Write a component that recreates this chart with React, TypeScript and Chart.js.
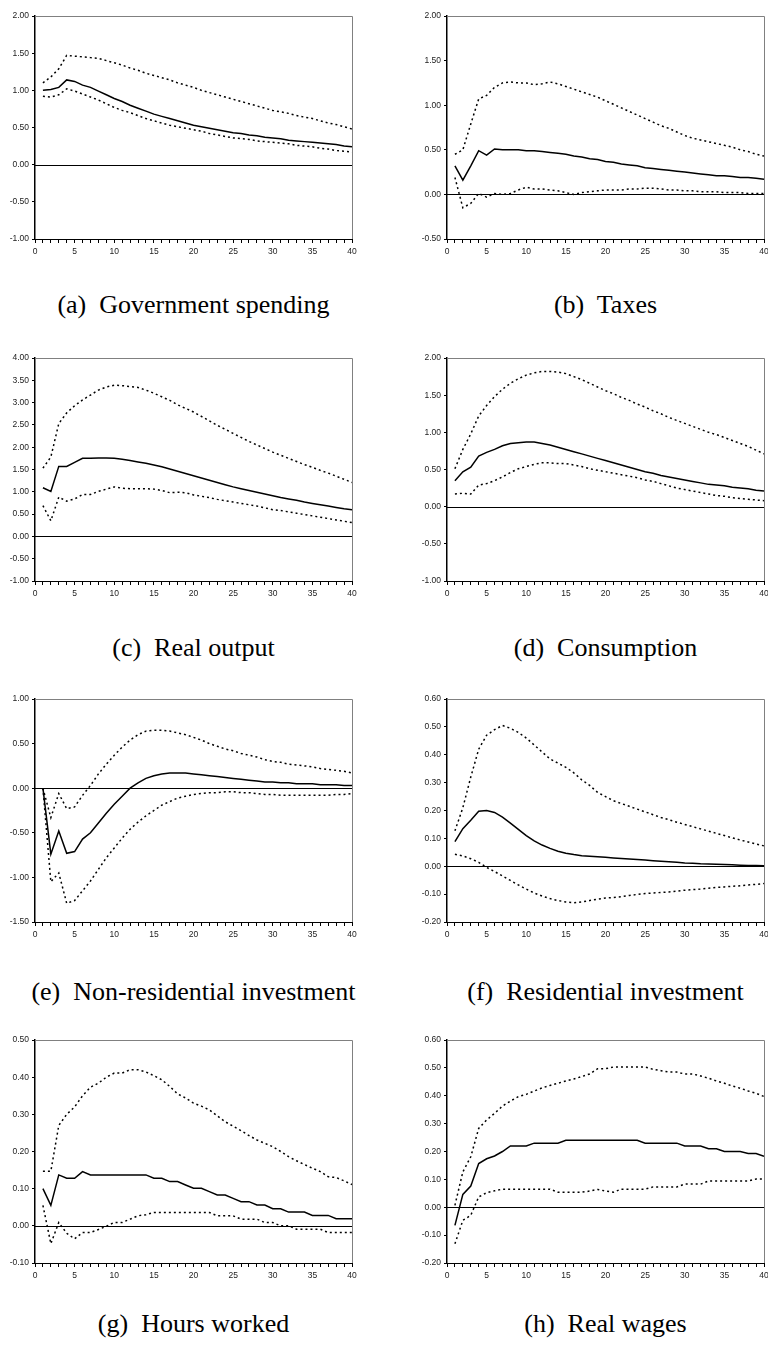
import React, { useEffect, useRef } from "react";
import { Chart, registerables } from "chart.js";

Chart.register(...registerables);

// ---------- data ----------
const periods = [1, 2, 3, 4, 5, 6, 7, 8, 9, 10, 11, 12, 13, 14, 15, 16, 17, 18, 19, 20, 21, 22, 23, 24, 25, 26, 27, 28, 29, 30, 31, 32, 33, 34, 35, 36, 37, 38, 39, 40];

const govMid = [1.00, 1.01, 1.04, 1.14, 1.12, 1.07, 1.04, 0.99, 0.94, 0.89, 0.85, 0.80, 0.76, 0.72, 0.68, 0.65, 0.62, 0.59, 0.56, 0.53, 0.51, 0.49, 0.47, 0.45, 0.43, 0.42, 0.40, 0.39, 0.37, 0.36, 0.35, 0.33, 0.32, 0.31, 0.30, 0.29, 0.28, 0.27, 0.25, 0.24];
const govHi = [1.10, 1.18, 1.29, 1.47, 1.46, 1.45, 1.44, 1.43, 1.40, 1.37, 1.34, 1.30, 1.27, 1.23, 1.20, 1.17, 1.14, 1.10, 1.07, 1.04, 1.00, 0.97, 0.94, 0.91, 0.88, 0.85, 0.82, 0.79, 0.76, 0.73, 0.71, 0.69, 0.66, 0.64, 0.62, 0.59, 0.56, 0.54, 0.51, 0.48];
const govLo = [0.92, 0.91, 0.94, 1.02, 0.99, 0.95, 0.91, 0.87, 0.82, 0.77, 0.73, 0.70, 0.66, 0.62, 0.59, 0.56, 0.53, 0.51, 0.49, 0.47, 0.45, 0.42, 0.40, 0.38, 0.36, 0.35, 0.34, 0.32, 0.31, 0.30, 0.29, 0.28, 0.26, 0.25, 0.24, 0.22, 0.21, 0.19, 0.18, 0.17];

const taxMid = [0.32, 0.16, 0.32, 0.49, 0.44, 0.51, 0.50, 0.50, 0.50, 0.49, 0.49, 0.48, 0.47, 0.46, 0.45, 0.43, 0.42, 0.40, 0.39, 0.37, 0.36, 0.34, 0.33, 0.32, 0.30, 0.29, 0.28, 0.27, 0.26, 0.25, 0.24, 0.23, 0.22, 0.21, 0.21, 0.20, 0.19, 0.19, 0.18, 0.17];
const taxHi = [0.45, 0.50, 0.79, 1.07, 1.11, 1.20, 1.25, 1.26, 1.25, 1.25, 1.23, 1.24, 1.26, 1.24, 1.21, 1.18, 1.15, 1.12, 1.09, 1.05, 1.01, 0.97, 0.93, 0.89, 0.85, 0.81, 0.77, 0.74, 0.70, 0.66, 0.63, 0.61, 0.59, 0.57, 0.55, 0.53, 0.50, 0.48, 0.45, 0.43];
const taxLo = [0.19, -0.15, -0.10, 0.01, -0.03, 0.01, 0.00, 0.01, 0.05, 0.08, 0.06, 0.06, 0.05, 0.04, 0.02, 0.00, 0.02, 0.03, 0.04, 0.05, 0.05, 0.05, 0.06, 0.06, 0.07, 0.07, 0.06, 0.05, 0.05, 0.04, 0.04, 0.03, 0.03, 0.03, 0.02, 0.02, 0.02, 0.01, 0.01, 0.01];

const outMid = [1.09, 1.01, 1.57, 1.57, 1.66, 1.75, 1.75, 1.76, 1.76, 1.75, 1.73, 1.70, 1.67, 1.64, 1.60, 1.56, 1.51, 1.46, 1.41, 1.36, 1.31, 1.26, 1.21, 1.16, 1.11, 1.07, 1.03, 0.99, 0.95, 0.91, 0.87, 0.84, 0.81, 0.77, 0.74, 0.71, 0.68, 0.65, 0.62, 0.60];
const outHi = [1.53, 1.78, 2.53, 2.77, 2.93, 3.06, 3.17, 3.28, 3.35, 3.39, 3.38, 3.36, 3.34, 3.28, 3.21, 3.13, 3.05, 2.95, 2.87, 2.79, 2.69, 2.59, 2.49, 2.40, 2.31, 2.22, 2.13, 2.05, 1.97, 1.89, 1.82, 1.75, 1.68, 1.61, 1.55, 1.48, 1.42, 1.35, 1.28, 1.21];
const outLo = [0.69, 0.35, 0.88, 0.79, 0.84, 0.94, 0.94, 1.01, 1.06, 1.11, 1.08, 1.07, 1.07, 1.07, 1.06, 1.03, 0.98, 0.99, 0.98, 0.93, 0.90, 0.87, 0.83, 0.80, 0.77, 0.74, 0.71, 0.68, 0.64, 0.60, 0.58, 0.55, 0.52, 0.49, 0.46, 0.43, 0.40, 0.37, 0.34, 0.31];

const conMid = [0.35, 0.47, 0.53, 0.68, 0.73, 0.77, 0.82, 0.85, 0.86, 0.87, 0.87, 0.85, 0.83, 0.80, 0.77, 0.74, 0.71, 0.68, 0.65, 0.62, 0.59, 0.56, 0.53, 0.50, 0.47, 0.45, 0.42, 0.40, 0.38, 0.36, 0.34, 0.32, 0.30, 0.29, 0.28, 0.26, 0.25, 0.24, 0.22, 0.21];
const conHi = [0.51, 0.77, 0.98, 1.22, 1.36, 1.48, 1.58, 1.66, 1.72, 1.77, 1.80, 1.82, 1.82, 1.81, 1.79, 1.75, 1.71, 1.66, 1.61, 1.56, 1.52, 1.47, 1.43, 1.38, 1.34, 1.29, 1.25, 1.20, 1.16, 1.12, 1.08, 1.04, 1.00, 0.97, 0.93, 0.89, 0.85, 0.81, 0.76, 0.71];
const conLo = [0.17, 0.18, 0.17, 0.29, 0.31, 0.35, 0.40, 0.46, 0.51, 0.54, 0.57, 0.59, 0.59, 0.58, 0.58, 0.56, 0.54, 0.51, 0.49, 0.47, 0.45, 0.43, 0.41, 0.39, 0.36, 0.34, 0.31, 0.28, 0.25, 0.23, 0.21, 0.19, 0.17, 0.15, 0.14, 0.12, 0.11, 0.10, 0.09, 0.08];

const nriMid = [0.00, -0.74, -0.48, -0.73, -0.71, -0.57, -0.50, -0.39, -0.28, -0.18, -0.09, 0.00, 0.06, 0.11, 0.14, 0.16, 0.17, 0.17, 0.17, 0.16, 0.15, 0.14, 0.13, 0.12, 0.11, 0.10, 0.09, 0.08, 0.07, 0.07, 0.06, 0.06, 0.05, 0.05, 0.05, 0.04, 0.04, 0.04, 0.03, 0.03];
const nriHi = [0.00, -0.33, -0.06, -0.23, -0.21, -0.08, 0.03, 0.16, 0.27, 0.37, 0.46, 0.54, 0.60, 0.64, 0.65, 0.65, 0.64, 0.62, 0.60, 0.57, 0.54, 0.50, 0.47, 0.44, 0.42, 0.39, 0.37, 0.35, 0.32, 0.30, 0.29, 0.27, 0.26, 0.25, 0.24, 0.22, 0.21, 0.20, 0.19, 0.17];
const nriLo = [0.00, -1.05, -0.95, -1.29, -1.26, -1.15, -1.04, -0.91, -0.78, -0.67, -0.56, -0.46, -0.38, -0.31, -0.25, -0.19, -0.15, -0.11, -0.09, -0.07, -0.06, -0.05, -0.05, -0.04, -0.04, -0.05, -0.05, -0.06, -0.07, -0.07, -0.08, -0.08, -0.08, -0.08, -0.08, -0.08, -0.08, -0.07, -0.07, -0.06];

const resMid = [0.088, 0.135, 0.165, 0.197, 0.200, 0.193, 0.176, 0.155, 0.132, 0.110, 0.091, 0.076, 0.064, 0.054, 0.047, 0.042, 0.038, 0.036, 0.034, 0.032, 0.030, 0.028, 0.026, 0.024, 0.022, 0.020, 0.018, 0.016, 0.014, 0.012, 0.011, 0.009, 0.008, 0.007, 0.006, 0.005, 0.004, 0.003, 0.003, 0.002];
const resHi = [0.127, 0.210, 0.320, 0.420, 0.470, 0.490, 0.505, 0.495, 0.480, 0.460, 0.435, 0.410, 0.385, 0.370, 0.355, 0.335, 0.310, 0.290, 0.265, 0.250, 0.235, 0.225, 0.215, 0.205, 0.195, 0.185, 0.175, 0.167, 0.158, 0.150, 0.142, 0.134, 0.126, 0.118, 0.110, 0.102, 0.094, 0.087, 0.080, 0.073];
const resLo = [0.043, 0.037, 0.027, 0.014, -0.004, -0.019, -0.035, -0.051, -0.067, -0.082, -0.096, -0.107, -0.116, -0.123, -0.128, -0.131, -0.128, -0.123, -0.118, -0.114, -0.112, -0.109, -0.105, -0.101, -0.098, -0.096, -0.094, -0.092, -0.089, -0.086, -0.084, -0.082, -0.079, -0.076, -0.074, -0.072, -0.070, -0.067, -0.065, -0.062];

const hrsMid = [0.100, 0.055, 0.137, 0.128, 0.128, 0.146, 0.137, 0.137, 0.137, 0.137, 0.137, 0.137, 0.137, 0.137, 0.128, 0.128, 0.119, 0.119, 0.110, 0.101, 0.101, 0.092, 0.083, 0.083, 0.074, 0.065, 0.065, 0.056, 0.056, 0.046, 0.046, 0.037, 0.037, 0.037, 0.028, 0.028, 0.028, 0.019, 0.019, 0.019];
const hrsHi = [0.147, 0.147, 0.270, 0.300, 0.320, 0.350, 0.373, 0.384, 0.400, 0.411, 0.411, 0.420, 0.420, 0.414, 0.404, 0.393, 0.375, 0.355, 0.344, 0.330, 0.322, 0.312, 0.296, 0.280, 0.268, 0.256, 0.243, 0.231, 0.222, 0.213, 0.200, 0.186, 0.175, 0.165, 0.155, 0.146, 0.132, 0.130, 0.121, 0.111];
const hrsLo = [0.055, -0.048, 0.009, -0.020, -0.035, -0.018, -0.018, -0.010, -0.001, 0.009, 0.009, 0.018, 0.027, 0.030, 0.036, 0.036, 0.036, 0.036, 0.036, 0.036, 0.036, 0.036, 0.027, 0.027, 0.027, 0.018, 0.018, 0.018, 0.009, 0.009, 0.000, 0.000, -0.009, -0.009, -0.009, -0.009, -0.018, -0.018, -0.018, -0.018];

const wagMid = [-0.065, 0.046, 0.076, 0.157, 0.174, 0.184, 0.200, 0.220, 0.220, 0.220, 0.230, 0.230, 0.230, 0.230, 0.240, 0.240, 0.240, 0.240, 0.240, 0.240, 0.240, 0.240, 0.240, 0.240, 0.230, 0.230, 0.230, 0.230, 0.230, 0.220, 0.220, 0.220, 0.210, 0.210, 0.200, 0.200, 0.200, 0.193, 0.193, 0.183];
const wagHi = [0.007, 0.127, 0.181, 0.283, 0.313, 0.337, 0.363, 0.381, 0.397, 0.405, 0.417, 0.428, 0.437, 0.445, 0.453, 0.460, 0.469, 0.478, 0.497, 0.497, 0.503, 0.503, 0.503, 0.503, 0.503, 0.495, 0.490, 0.485, 0.485, 0.478, 0.478, 0.471, 0.463, 0.453, 0.445, 0.435, 0.427, 0.417, 0.409, 0.397];
const wagLo = [-0.131, -0.047, -0.029, 0.037, 0.052, 0.059, 0.065, 0.065, 0.065, 0.065, 0.065, 0.065, 0.065, 0.054, 0.054, 0.054, 0.054, 0.058, 0.064, 0.058, 0.054, 0.065, 0.065, 0.065, 0.065, 0.073, 0.073, 0.073, 0.073, 0.083, 0.083, 0.083, 0.094, 0.094, 0.094, 0.094, 0.094, 0.094, 0.101, 0.101];

const captions = ["(a)  Government spending", "(b)  Taxes", "(c)  Real output", "(d)  Consumption", "(e)  Non-residential investment", "(f)  Residential investment", "(g)  Hours worked", "(h)  Real wages"];
const yMins = [-1.0, -0.5, -1.0, -1.0, -1.5, -0.2, -0.1, -0.2];
const yMaxs = [2.0, 2.0, 4.0, 2.0, 1.0, 0.6, 0.5, 0.6];
const ySteps = [0.5, 0.5, 0.5, 0.5, 0.5, 0.1, 0.1, 0.1];
const xTickLabels = ["0", "5", "10", "15", "20", "25", "30", "35", "40"];

const series = [
  [govMid, govHi, govLo],
  [taxMid, taxHi, taxLo],
  [outMid, outHi, outLo],
  [conMid, conHi, conLo],
  [nriMid, nriHi, nriLo],
  [resMid, resHi, resLo],
  [hrsMid, hrsHi, hrsLo],
  [wagMid, wagHi, wagLo],
];

// ---------- layout ----------
const COL_LEFT = [35, 447];
const ROW_TOP = [16, 358, 699, 1040];
const CAPTION_Y = [305, 648, 992, 1324];
const PLOT_W = 317;
const PLOT_H = 223;
const PAD_L = 35;
const PAD_T = 10;
const PAD_R = 14;
const PAD_B = 30;

const framePlugin = {
  id: "frame",
  beforeDatasetsDraw(chart: any) {
    const { ctx, chartArea, scales } = chart;
    const zy = Math.round(scales.y.getPixelForValue(0)) + 0.5;
    ctx.save();
    ctx.strokeStyle = "#000";
    ctx.lineWidth = 1;
    ctx.beginPath();
    ctx.moveTo(chartArea.left, zy);
    ctx.lineTo(chartArea.right, zy);
    ctx.stroke();
    ctx.restore();
  },
  afterDraw(chart: any) {
    const { ctx, chartArea } = chart;
    ctx.save();
    ctx.strokeStyle = "#808080";
    ctx.lineWidth = 1;
    ctx.beginPath();
    ctx.moveTo(chartArea.left, Math.round(chartArea.top) + 0.5);
    ctx.lineTo(Math.round(chartArea.right) + 0.5, Math.round(chartArea.top) + 0.5);
    ctx.lineTo(Math.round(chartArea.right) + 0.5, chartArea.bottom);
    ctx.stroke();
    ctx.restore();
  },
};

function Panel({ idx }: { idx: number }) {
  const ref = useRef<HTMLCanvasElement>(null);
  const col = idx % 2;
  const row = Math.floor(idx / 2);
  const plotLeft = COL_LEFT[col];
  const plotTop = ROW_TOP[row];
  const cw = PAD_L + PLOT_W + PAD_R;
  const ch = PAD_T + PLOT_H + PAD_B;

  useEffect(() => {
    const [mid, hi, lo] = series[idx];
    const pts = (arr: number[]) => periods.map((p, i) => ({ x: p, y: arr[i] }));
    const dotted = {
      borderColor: "#000",
      borderWidth: 1.5,
      borderDash: [2, 3],
      pointRadius: 0,
      fill: false,
      tension: 0,
    };
    const tickFont = { family: "'Liberation Sans', Arial, sans-serif", size: 8.5 };
    const chart = new Chart(ref.current as HTMLCanvasElement, {
      type: "line",
      data: {
        datasets: [
          { data: pts(hi), ...dotted },
          { data: pts(lo), ...dotted },
          { data: pts(mid), borderColor: "#000", borderWidth: 1.5, pointRadius: 0, fill: false, tension: 0 },
        ],
      },
      options: {
        animation: false,
        responsive: false,
        events: [],
        layout: { padding: { left: 0, top: PAD_T, right: PAD_R, bottom: 0 } },
        plugins: { legend: { display: false }, tooltip: { enabled: false } },
        scales: {
          x: {
            type: "linear",
            min: 0,
            max: 40,
            afterFit(s: any) {
              s.height = PAD_B;
            },
            ticks: {
              stepSize: 1,
              autoSkip: false,
              maxRotation: 0,
              padding: 4,
              color: "#222",
              font: tickFont,
              callback: (v: any) => {
                const s = String(v);
                return xTickLabels.includes(s) ? s : "";
              },
            },
            grid: { drawOnChartArea: false, drawTicks: true, tickLength: 4, color: "#000", lineWidth: 1 },
            border: { color: "#000", width: 1 },
          },
          y: {
            type: "linear",
            min: yMins[idx],
            max: yMaxs[idx],
            afterFit(s: any) {
              s.width = PAD_L;
            },
            ticks: {
              stepSize: ySteps[idx],
              padding: 3,
              color: "#222",
              font: tickFont,
              callback: (v: any) => (Math.abs(Number(v)) < 1e-9 ? "0.00" : Number(v).toFixed(2)),
            },
            grid: { drawOnChartArea: false, drawTicks: true, tickLength: 3, color: "#000", lineWidth: 1 },
            border: { color: "#000", width: 1.5 },
          },
        },
      },
      plugins: [framePlugin],
    } as any);
    return () => chart.destroy();
  }, [idx]);

  return (
    <>
      <canvas
        ref={ref}
        width={cw}
        height={ch}
        style={{ position: "absolute", left: plotLeft - PAD_L, top: plotTop - PAD_T, width: cw, height: ch }}
      />
      <div
        style={{
          position: "absolute",
          left: plotLeft + PLOT_W / 2 - 200,
          top: CAPTION_Y[row] - 15,
          width: 400,
          height: 30,
          lineHeight: "30px",
          textAlign: "center",
          whiteSpace: "pre",
          fontFamily: "'Liberation Serif', 'DejaVu Serif', serif",
          fontSize: 26,
          color: "#000",
        }}
      >
        {captions[idx]}
      </div>
    </>
  );
}

export default function App() {
  return (
    <div
      style={{
        position: "absolute",
        left: 0,
        top: 0,
        width: 768,
        height: 1345,
        overflow: "hidden",
        background: "#fff",
      }}
    >
      {[0, 1, 2, 3, 4, 5, 6, 7].map((i) => (
        <Panel key={i} idx={i} />
      ))}
    </div>
  );
}
